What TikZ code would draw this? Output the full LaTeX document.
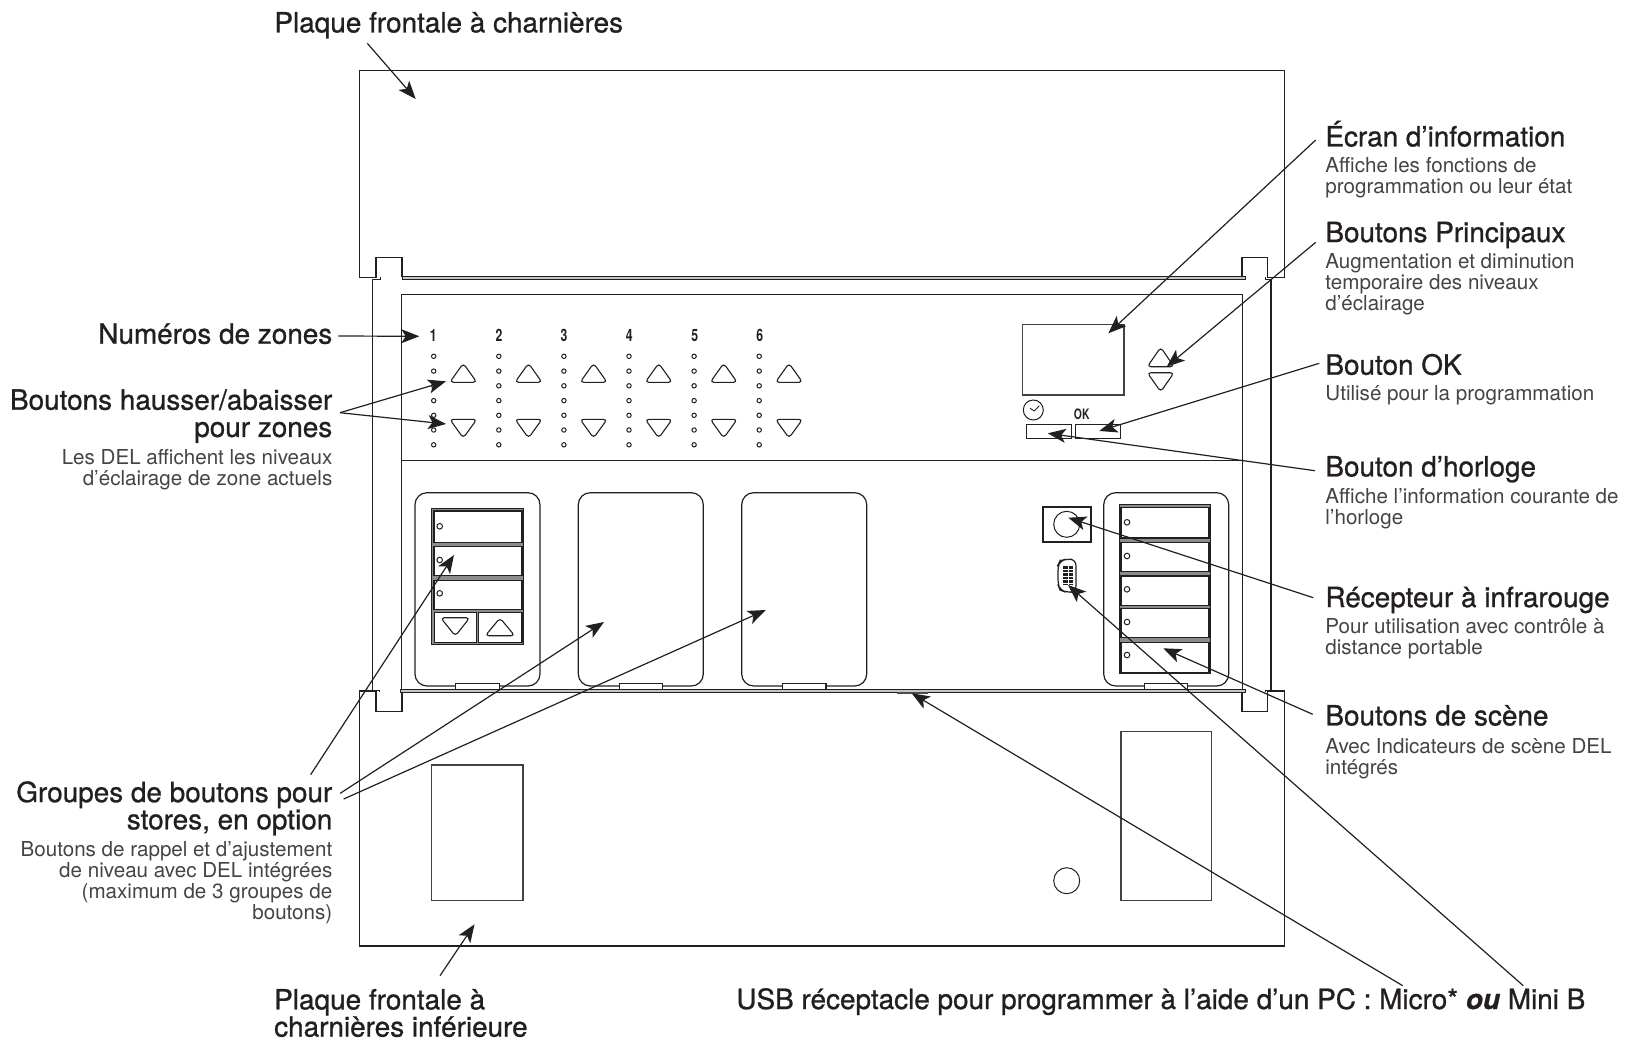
\documentclass[tikz,border=0pt]{standalone}
\usepackage{fontspec}
\usetikzlibrary{arrows.meta}
\setmainfont{TeX Gyre Heros}
\newfontfamily\headf[FakeBold=0.9]{TeX Gyre Heros}
\newfontfamily\usbf[FakeBold=0.9]{TeX Gyre Heros}
\newfontfamily\bodyf{TeX Gyre Heros}
\newfontfamily\numf[FakeStretch=0.72]{TeX Gyre Heros}
\definecolor{ink}{HTML}{231F20}
\definecolor{bodyc}{HTML}{454344}
\definecolor{band}{HTML}{8C8C8C}
\tikzset{
  lin/.style={draw=ink,line width=0.6pt},
  tri/.style={draw=ink,line width=0.55pt,rounded corners=1.8pt},
  led/.style={draw=ink,line width=0.5pt,fill=white},
  rowbtn/.style={draw=ink,line width=0.6pt,fill=white},
  wire/.style={draw=ink,line width=0.6pt,-{Stealth[length=9pt,width=7pt,inset=2.2pt]}},
  headw/.style={anchor=north west,inner sep=0pt,align=left,text=ink,font=\headf\fontsize{13.95}{13.6}\selectfont},
  heade/.style={anchor=north east,inner sep=0pt,align=right,text=ink,font=\headf\fontsize{13.95}{13.6}\selectfont},
  bodyw/.style={anchor=north west,inner sep=0pt,align=left,text=bodyc,font=\bodyf\fontsize{10.3}{10.5}\selectfont},
  bodye/.style={anchor=north east,inner sep=0pt,align=right,text=bodyc,font=\bodyf\fontsize{10.3}{10.5}\selectfont},
}
\newcommand{\hs}{\rule{0pt}{13.5pt}}
\newcommand{\bs}{\rule{0pt}{8pt}}
\begin{document}
\begin{tikzpicture}[x=0.5pt,y=-0.5pt]
\useasboundingbox (0,0) rectangle (1627,1039);
% top plate
\draw[lin] (359.3,277.3) -- (359.3,70.5) -- (1284.3,70.5) -- (1284.3,277.3) -- (1267.3,277.3) -- (1267.3,257.3) -- (1242,257.3) -- (1242,277);
\draw[lin] (359.3,277.3) -- (376,277.3) -- (376,257.3) -- (402,257.3) -- (402,277);
% top hinge
\draw[lin,fill=band!50,line width=0.5pt] (402,276.8) rectangle (1245,279.4);
\draw[lin,line width=0.5pt] (372.3,279.4) -- (380,279.4) -- (380,277);
\draw[lin,line width=0.5pt] (1265,277) -- (1265,279.4) -- (1271,279.4);
% body
\draw[lin] (372.3,279.4) -- (372.3,690);
\draw[lin,line width=0.8pt] (1271,279.4) -- (1271,690);
\draw[lin] (401.7,294.3) rectangle (1242.7,460.7);
\draw[lin] (401.7,460.7) -- (401.7,690);
\draw[lin] (1242.7,460.7) -- (1242.7,690);
% zone controls
\foreach \i/\nx/\lx/\tx in {1/433.3/433.7/463.3,2/499/498.8/528.5,3/564/563.9/593.6,4/629.3/629/658.7,5/694.7/694.1/723.7,6/759.7/759.2/789}{
  \node[inner sep=0pt,text=ink,font=\numf\bfseries\fontsize{8.5}{9}\selectfont] (z\i) at (\nx,335.3) {\i};
  \foreach \ly in {356.3,371.1,385.8,400.6,415.3,430,444.8}
    \draw[led] (\lx,\ly) circle (1.1pt);
  \draw[tri] (\tx,363.3) -- (\tx+13.5,382.3) -- (\tx-13.5,382.3) -- cycle;
  \draw[tri] (\tx,438) -- (\tx+13.5,419.3) -- (\tx-13.5,419.3) -- cycle;
}
% display
\draw[draw=ink!85,line width=0.7pt] (1022.7,324.3) rectangle (1124,395);
\draw[tri] (1160.7,347.3) -- (1174,366.7) -- (1147.3,366.7) -- cycle;
\draw[tri] (1160.7,391.7) -- (1174,372.7) -- (1147.3,372.7) -- cycle;
\draw[lin,line width=0.5pt] (1033.3,410) circle (10);
\draw[lin,line width=0.45pt] (1030,408.3) -- (1034.3,411) -- (1039.3,405.7);
\draw[lin] (1026.3,424.3) rectangle (1071.7,438.3);
\draw[lin] (1075.3,424.3) rectangle (1120.3,438.3);
\node[inner sep=0pt,text=ink,font=\numf\bfseries\fontsize{7.2}{8}\selectfont] (oktext) at (1081.7,414.3) {OK};
% button groups
\foreach \xa/\xb/\ta/\tb in {415/540/455.7/499.3,578.3/703.3/619.3/662.7,741.7/866.7/782.7/826,1103.7/1228.7/1144.3/1187.7}{
  \draw[lin,rounded corners=6pt] (\xa,492.7) rectangle (\xb,686);
  \draw[lin,fill=white] (\ta,689.5) -- (\ta,683.3) -- (\tb,683.3) -- (\tb,689.5);
}
% group 1 buttons
\draw[lin,fill=band] (431.7,508.3) rectangle (523.3,644.7);
\foreach \ya/\yb in {511/542.3,546.3/575.7,580.3/609.7}
  \draw[rowbtn] (434,\ya) rectangle (522,\yb);
\draw[rowbtn] (434.3,612.3) rectangle (476.7,642.3);
\draw[rowbtn] (478.7,612.3) rectangle (522,642.3);
\foreach \ly in {526.3,560,593.3}
  \draw[led] (439.7,\ly) circle (1.4pt);
\draw[tri] (455.3,636) -- (469.7,617.7) -- (440.7,617.7) -- cycle;
\draw[tri] (500,618) -- (514.7,635.7) -- (485.3,635.7) -- cycle;
% group 4 buttons
\draw[lin,fill=band] (1119.3,504.3) rectangle (1210.7,673.3);
\foreach \ya/\yb in {507.3/538,542.3/571.3,576/605.3,608.7/637.7,642.3/672.3}
  \draw[rowbtn] (1121,\ya) rectangle (1209,\yb);
\foreach \ly in {522.3,556,589.3,622,655}
  \draw[led] (1127,\ly) circle (1.4pt);
% IR
\draw[lin,line width=0.9pt] (1042.7,506.7) rectangle (1091,542.3);
\draw[lin,line width=0.5pt] (1066.7,524.3) circle (13);
% USB
\draw[lin,rounded corners=3pt] (1060,561) -- (1066,559) -- (1076,559.5) -- (1076,592) -- (1066,592.3) -- (1060,590) -- (1058,585) -- (1058,565) -- cycle;
\fill[ink] (1063,566) rectangle (1073,585);
\foreach \uy in {569,572.5,576,579.5,583}
  \draw[white,line width=0.4pt] (1063,\uy) -- (1073,\uy);
\draw[white,line width=0.4pt] (1068,566) -- (1068,585);
% bottom plate
\draw[lin] (359.3,691) -- (359.3,946) -- (1284.3,946) -- (1284.3,691) -- (1267.7,691) -- (1267.7,711.3) -- (1242,711.3) -- (1242,692);
\draw[lin] (359.3,691) -- (376,691) -- (376,711.3) -- (402,711.3) -- (402,692);
\draw[lin,fill=band!50,line width=0.5pt] (400,689.7) rectangle (1245.5,692.3);
\draw[lin,line width=0.5pt] (373,690) -- (379,690) -- (379,692);
\draw[lin,line width=0.5pt] (1265,692.3) -- (1265,690) -- (1271,690);
\draw[draw=ink!80,line width=1pt] (897,693) -- (928,693);
\draw[lin,draw=ink!85] (431.6,765) rectangle (523,900.3);
\draw[lin,draw=ink!85] (1121,731.5) rectangle (1211.7,900.3);
\draw[lin,line width=0.5pt] (1066.7,880.7) circle (13);
% labels
\node[headw] (plaquetop) at (274,5) {\hs Plaque frontale à charnières};
\node[heade] (numeros) at (332.7,316.3) {\hs Numéros de zones};
\node[heade] (hausser) at (332.7,382.3) {\hs Boutons hausser/abaisser\\pour zones};
\node[bodye] (hausserb) at (332.7,448) {\bs Les DEL affichent les niveaux\\d’éclairage de zone actuels};
\node[heade] (groupes) at (332.7,774.7) {\hs Groupes de boutons pour\\stores, en option};
\node[bodye] (groupesb) at (332.7,839.7) {\bs Boutons de rappel et d’ajustement\\de niveau avec DEL intégrées\\(maximum de 3 groupes de\\boutons)};
\node[headw] (plaqueinf) at (273.8,982) {\hs Plaque frontale à\\charnières inférieure};
\node[headw] (ecran) at (1325,119) {\hs Écran d’information};
\node[bodyw] (ecranb) at (1325,156.3) {\bs Affiche les fonctions de\\programmation ou leur état};
\node[headw] (princ) at (1325,214.7) {\hs Boutons Principaux};
\node[bodyw] (princb) at (1325,252.3) {\bs Augmentation et diminution\\temporaire des niveaux\\d’éclairage};
\node[headw] (ok) at (1325,347.3) {\hs Bouton OK};
\node[bodyw] (okb) at (1325,384) {\bs Utilisé pour la programmation};
\node[headw] (horl) at (1325,449) {\hs Bouton d’horloge};
\node[bodyw] (horlb) at (1325,487.3) {\bs Affiche l’information courante de\\l’horloge};
\node[headw] (recep) at (1325,579.7) {\hs Récepteur à infrarouge};
\node[bodyw] (recepb) at (1325,617.3) {\bs Pour utilisation avec contrôle à\\distance portable};
\node[headw] (scene) at (1325,698) {\hs Boutons de scène};
\node[bodyw] (sceneb) at (1325,736.7) {\bs Avec Indicateurs de scène DEL\\intégrés};
\node[anchor=base west,inner sep=0pt,text=ink,font=\usbf\fontsize{13.95}{14}\selectfont] (usb) at (736,1009) {USB réceptacle pour programmer à l’aide d’un PC : Micro* \textit{\textbf{ou}} Mini B};
% connector ends
\foreach \n/\p in {a1/{367.3,43.3},a2/{415.7,99},b1/{338.3,336},b2/{419.3,336.3},c0/{340,412.7},c1/{446,381.3},c2/{446,424},
  d1/{310.6,774.7},d2/{454,555},e1/{340.2,793.3},e2/{604,622},f1/{343.7,799},f2/{765.8,610},g1/{440,975.7},g2/{474.5,924.3},
  h1/{1315.7,140},h2/{1108.3,333.3},i1/{1315.7,242.3},i2/{1166.7,366.7},j1/{1319.3,363.3},j2/{1099.3,431},k1/{1315,470.7},k2/{1047.7,433.3},
  l1/{1313.3,597.7},l2/{1068.3,517.7},m1/{1312.7,714.3},m2/{1163.3,648.3},n1/{1402.7,985.7},n2/{911.7,693.3},o1/{1523.3,985.7},o2/{1068,585}}
  \coordinate (\n) at (\p);
\draw[wire] (a1) -- (a2);
\draw[wire] (b1) -- (b2);
\draw[wire] (c0) -- (c1);
\draw[wire] (c0) -- (c2);
\draw[wire] (d1) -- (d2);
\draw[wire] (e1) -- (e2);
\draw[wire] (f1) -- (f2);
\draw[wire] (g1) -- (g2);
\draw[wire] (h1) -- (h2);
\draw[wire] (i1) -- (i2);
\draw[wire] (j1) -- (j2);
\draw[wire] (k1) -- (k2);
\draw[wire] (l1) -- (l2);
\draw[wire] (m1) -- (m2);
\draw[wire] (n1) -- (n2);
\draw[wire] (o1) -- (o2);
\end{tikzpicture}
\end{document}
